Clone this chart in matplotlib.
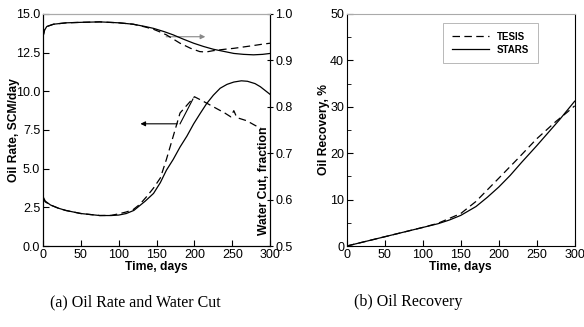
import matplotlib
matplotlib.use("Agg")
import matplotlib.pyplot as plt
from matplotlib.ticker import MultipleLocator, FormatStrFormatter

plt.rcParams['font.family'] = ['Liberation Sans', 'DejaVu Sans']

# oil rate, SCM/day
t_rate_stars = [0, 3, 10, 20, 30, 50, 75, 90, 100, 110, 120, 135, 146, 155, 163, 172, 181, 190, 199, 208, 216, 225, 234, 243, 252, 262, 270, 280, 287, 300]
rate_stars = [3.2, 2.9, 2.65, 2.45, 2.3, 2.1, 1.97, 1.97, 2.0, 2.1, 2.3, 2.9, 3.4, 4.1, 4.9, 5.6, 6.4, 7.1, 7.9, 8.6, 9.2, 9.75, 10.2, 10.45, 10.6, 10.68, 10.65, 10.5, 10.3, 9.8]
t_rate_tesis = [0, 3, 10, 20, 30, 50, 75, 90, 100, 110, 119, 128, 137, 146, 155, 163, 172, 181, 190, 200, 210, 225, 240, 248, 252, 256, 269, 280, 288]
rate_tesis = [3.1, 2.85, 2.65, 2.45, 2.3, 2.1, 1.97, 1.98, 2.08, 2.2, 2.35, 2.7, 3.2, 3.75, 4.4, 5.6, 7.1, 8.6, 9.1, 9.65, 9.4, 9.0, 8.6, 8.35, 8.75, 8.3, 8.1, 7.8, 7.6]

# water cut, fraction
t_wc_stars = [0, 2, 5, 14, 31, 50, 75, 100, 119, 135, 146, 160, 172, 185, 199, 212, 225, 240, 252, 265, 278, 290, 300]
wc_stars = [0.951, 0.965, 0.973, 0.978, 0.981, 0.982, 0.983, 0.981, 0.978, 0.973, 0.969, 0.962, 0.955, 0.946, 0.937, 0.930, 0.924, 0.919, 0.915, 0.913, 0.912, 0.913, 0.915]
t_wc_tesis = [0, 2, 5, 14, 31, 50, 75, 100, 119, 135, 146, 155, 163, 172, 181, 195, 207, 215, 225, 240, 252, 265, 278, 290, 300]
wc_tesis = [0.951, 0.965, 0.973, 0.978, 0.981, 0.982, 0.983, 0.981, 0.978, 0.972, 0.967, 0.961, 0.955, 0.946, 0.937, 0.926, 0.919, 0.918, 0.921, 0.924, 0.926, 0.929, 0.932, 0.935, 0.937]

# oil recovery, %
t_rec_stars = [0, 25, 50, 75, 100, 120, 135, 150, 170, 185, 200, 215, 230, 250, 265, 280, 300]
rec_stars = [0, 1.0, 2.0, 3.0, 4.0, 4.8, 5.6, 6.6, 8.5, 10.5, 12.7, 15.2, 18.0, 21.6, 24.4, 27.2, 31.2]
t_rec_tesis = [0, 25, 50, 75, 100, 120, 130, 150, 170, 200, 225, 250, 275, 290, 300]
rec_tesis = [0, 1.0, 2.0, 3.0, 4.0, 4.9, 5.6, 7.0, 9.6, 14.6, 18.8, 23.1, 26.8, 28.8, 30.2]

bold = dict(fontweight='bold', fontsize=8.7)
dash = (0, (6, 3.5))

fig = plt.figure(figsize=(5.84, 3.27), dpi=100)
ax1 = fig.add_axes([0.0736, 0.2477, 0.389, 0.7095])
ax2 = ax1.twinx()
ax3 = fig.add_axes([0.594, 0.2477, 0.390, 0.7095])

# (a) oil rate and water cut
ax1.plot(t_rate_stars, rate_stars, color='black', lw=0.9)
ax1.plot(t_rate_tesis, rate_tesis, color='black', lw=0.9, ls=dash)
ax2.plot(t_wc_stars, wc_stars, color='black', lw=0.9)
ax2.plot(t_wc_tesis, wc_tesis, color='black', lw=0.9, ls=dash)

ax1.set_xlim(0, 300)
ax1.set_ylim(0, 15)
ax2.set_ylim(0.5, 1.0)
ax1.xaxis.set_major_locator(MultipleLocator(50))
ax1.yaxis.set_major_locator(MultipleLocator(2.5))
ax1.yaxis.set_major_formatter(FormatStrFormatter('%.1f'))
ax2.yaxis.set_major_locator(MultipleLocator(0.1))
ax2.yaxis.set_major_formatter(FormatStrFormatter('%.1f'))
ax1.tick_params(direction='in', labelsize=9, length=4, pad=2)
ax2.tick_params(direction='inout', labelsize=9, length=5, pad=1)

ax1.annotate('', xy=(125, 7.9), xytext=(181, 7.9),
             arrowprops=dict(arrowstyle='-|>', color='black', lw=0.8, mutation_scale=7))
ax1.plot([181, 198], [7.9, 9.5], color='black', lw=0.8)
ax1.annotate('', xy=(218, 13.53), xytext=(159, 13.53),
             arrowprops=dict(arrowstyle='-|>', color='#888888', lw=0.8, mutation_scale=7))

ax1.set_xlabel('Time, days', labelpad=0, **bold)
ax1.set_ylabel('Oil Rate, SCM/day', **bold)
ax1.yaxis.set_label_coords(-0.101, 0.5)
ax2.set_ylabel('Water Cut, fraction', **bold)
ax2.yaxis.set_label_coords(0.945, 0.28)
for ax in (ax1, ax2):
    ax.spines['top'].set_color('#aaaaaa')

# (b) oil recovery
ax3.plot(t_rec_tesis, rec_tesis, color='black', lw=0.9, ls=dash, label='TESIS')
ax3.plot(t_rec_stars, rec_stars, color='black', lw=0.9, label='STARS')
ax3.set_xlim(0, 300)
ax3.set_ylim(0, 50)
ax3.xaxis.set_major_locator(MultipleLocator(50))
ax3.yaxis.set_major_locator(MultipleLocator(10))
ax3.yaxis.set_minor_locator(MultipleLocator(5))
ax3.tick_params(which='both', direction='in', labelsize=9, pad=2)
ax3.tick_params(which='major', length=4)
ax3.tick_params(which='minor', length=3)
ax3.spines['top'].set_color('#aaaaaa')
ax3.set_xlabel('Time, days', labelpad=0, **bold)
ax3.set_ylabel('Oil Recovery, %', **bold)
ax3.yaxis.set_label_coords(-0.075, 0.5)
leg = ax3.legend(loc='upper right', bbox_to_anchor=(0.838, 0.961), borderaxespad=0,
                 handlelength=3.8, fancybox=False, prop=dict(weight='bold', size=7),
                 borderpad=0.9, labelspacing=0.3, handletextpad=0.8)
leg.get_frame().set_edgecolor('#999999')
leg.get_frame().set_linewidth(0.6)

fig.text(0.231, 0.076, '(a) Oil Rate and Water Cut', ha='center', va='center',
         family=['Liberation Serif', 'DejaVu Serif'], fontsize=11.5)
fig.text(0.699, 0.076, '(b) Oil Recovery', ha='center', va='center',
         family=['Liberation Serif', 'DejaVu Serif'], fontsize=11.5)

fig.savefig('out.png', dpi=100)
